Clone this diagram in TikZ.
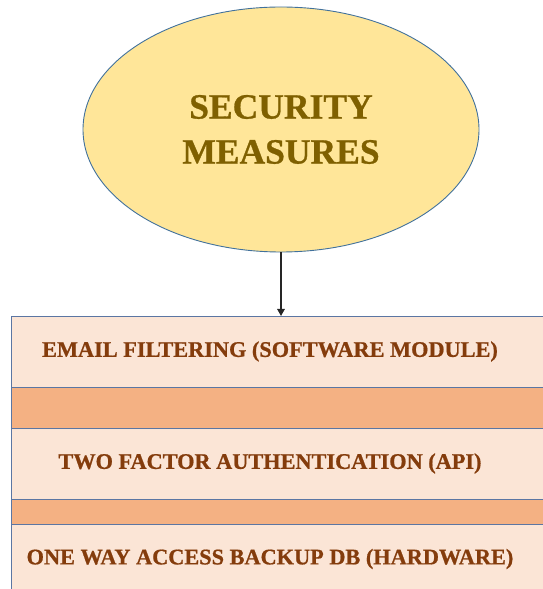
\documentclass[tikz,border=0pt]{standalone}
\usepackage{fontspec}
\setmainfont{Liberation Serif}[BoldFeatures={FakeBold=0.8}]
\usetikzlibrary{shapes.geometric,arrows.meta}
\definecolor{ellfill}{HTML}{FFE699}
\definecolor{ellline}{HTML}{41719C}
\definecolor{elltext}{HTML}{7F6000}
\definecolor{layerfill}{HTML}{FBE5D6}
\definecolor{bandfill}{HTML}{F4B183}
\definecolor{layertext}{HTML}{843C0C}
\definecolor{layerline}{HTML}{5B76A3}
\tikzset{
  x=1pt, y=1pt,
  topic/.style={ellipse, draw=ellline, line width=0.9pt, fill=ellfill,
    minimum width=396pt, minimum height=245pt, inner sep=0pt,
    align=center, text=elltext,
    font=\fontsize{35.5}{45}\selectfont\bfseries},
  layerbox/.style={rectangle, draw=layerline, line width=0.9pt, fill=layerfill,
    anchor=north west, minimum width=560pt, inner sep=0pt},
  bandbox/.style={layerbox, fill=bandfill},
  layerlabel/.style={text=layertext, inner sep=0pt,
    font=\fontsize{22.3}{26}\selectfont\bfseries},
  link/.style={draw=black!85, line width=1.3pt,
    -{Triangle[length=7pt,width=7.5pt]}}
}
\begin{document}
\begin{tikzpicture}
\useasboundingbox (0,0) rectangle (543,589);
\clip (0,0) rectangle (543,589);
% central topic
\node[topic] (sec) at (281,459.5) {SECURITY\\MEASURES};
% stacked layers
\node[layerbox, minimum height=71pt] (l1) at (11,273) {};
\node[bandbox,  minimum height=41pt] (b1) at (11,202) {};
\node[layerbox, minimum height=71pt] (l2) at (11,161) {};
\node[bandbox,  minimum height=25pt] (b2) at (11,90) {};
\node[layerbox, minimum height=80pt] (l3) at (11,65) {};
% layer labels
\node[layerlabel] (t1) at (270,237.5) {EMAIL FILTERING (SOFTWARE MODULE)};
\node[layerlabel] (t2) at (270,125.5) {TWO FACTOR AUTHENTICATION (API)};
\node[layerlabel] (t3) at (270,30) {ONE WAY ACCESS BACKUP DB (HARDWARE)};
% connector
\draw[link] (sec.south) -- (sec.south |- l1.north);
\end{tikzpicture}
\end{document}
